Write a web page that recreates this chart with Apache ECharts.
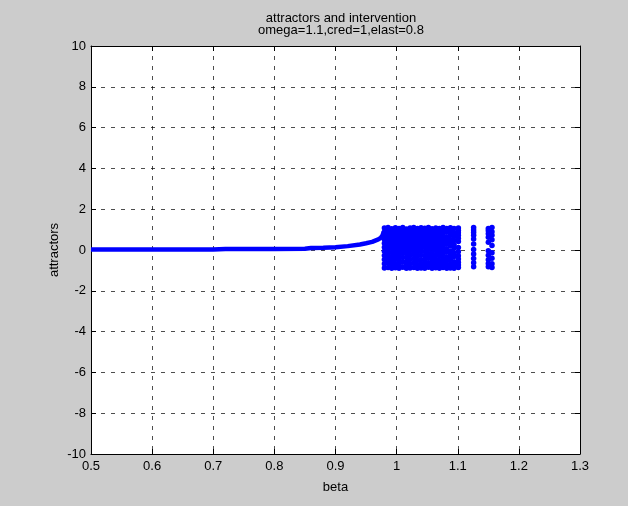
<!DOCTYPE html>
<html>
<head>
<meta charset="utf-8">
<script src="https://cdn.jsdelivr.net/npm/echarts@6/dist/echarts.min.js"></script>
<style>
html,body{margin:0;padding:0;background:#cccccc;}
#c{width:628px;height:506px;}
</style>
</head>
<body>
<div id="c"></div>
<script>
// ---- data ----
const titleLine1 = 'attractors and intervention';
const titleLine2 = 'omega=1.1,cred=1,elast=0.8';
const xName = 'beta';
const yName = 'attractors';

// stable branch (single attractor)
const curveBeta = [0.5, 0.55, 0.6, 0.65, 0.7, 0.72, 0.75, 0.8, 0.85, 0.86, 0.88, 0.9, 0.92, 0.94, 0.95, 0.96, 0.965, 0.97, 0.974, 0.977, 0.979];
const curveY    = [0.02, 0.02, 0.02, 0.02, 0.02, 0.05, 0.05, 0.05, 0.06, 0.1, 0.11, 0.14, 0.19, 0.27, 0.33, 0.4, 0.46, 0.52, 0.6, 0.72, 0.9];

// chaotic band columns
const chaosBeta = [0.980,0.986,0.992,0.998,1.004,1.010,1.016,1.022,1.028,1.034,1.040,1.046,1.052,1.058,1.064,1.070,1.076,1.082,1.088,1.094];
const chaosY = [
 [1.08,0.88,0.7,0.52,0.33,0.14,-0.06,-0.27,-0.47,-0.68,-0.88],
 [1.1,0.93,0.76,0.58,0.4,0.2,0.01,-0.19,-0.41,-0.63,-0.86],
 [1.04,0.85,0.66,0.47,0.28,0.09,-0.12,-0.33,-0.54,-0.74,-0.9],
 [1.09,0.91,0.73,0.55,0.37,0.18,-0.02,-0.23,-0.44,-0.66,-0.87],
 [1.06,0.87,0.69,0.5,0.31,0.12,-0.08,-0.29,-0.5,-0.71,-0.89],
 [1.1,0.94,0.77,0.6,0.42,0.23,0.04,-0.16,-0.37,-0.6,-0.84],
 [1.03,0.84,0.65,0.46,0.27,0.07,-0.14,-0.35,-0.56,-0.76,-0.9],
 [1.08,0.9,0.72,0.54,0.36,0.16,-0.04,-0.25,-0.46,-0.67,-0.88],
 [1.1,0.92,0.74,0.56,0.38,0.19,0.0,-0.21,-0.42,-0.64,-0.86],
 [1.05,0.86,0.67,0.48,0.29,0.1,-0.1,-0.31,-0.52,-0.73,-0.9],
 [1.09,0.9,0.71,0.53,0.34,0.15,-0.05,-0.26,-0.48,-0.69,-0.88],
 [1.07,0.89,0.7,0.51,0.32,0.13,-0.07,-0.28,-0.49,-0.7,-0.89],
 [1.1,0.93,0.75,0.57,0.39,0.21,0.02,-0.18,-0.4,-0.62,-0.85],
 [1.04,0.85,0.66,0.47,0.28,0.08,-0.13,-0.34,-0.55,-0.75,-0.9],
 [1.08,0.9,0.72,0.53,0.35,0.16,-0.03,-0.24,-0.45,-0.66,-0.87],
 [1.06,0.86,0.68,0.49,0.3,0.11,-0.09,-0.3,-0.51,-0.72,-0.89],
 [1.1,0.91,0.73,0.55,0.37,0.17,-0.01,-0.22,-0.43,-0.65,-0.86],
 [1.05,0.87,0.62,0.44,0.29,0.06,-0.11,-0.36,-0.53,-0.74,-0.9],
 [1.09,0.92,0.75,0.51,0.33,0.19,-0.06,-0.27,-0.47,-0.69,-0.88],
 [1.06,0.84,0.66,0.47,0.26,0.09,-0.15,-0.32,-0.58,-0.77,-0.89]
];

// sparse periodic windows
const sparseBeta = [1.101, 1.126, 1.150, 1.156];
const sparseY = [
 [1.08,0.96,0.84,0.72,0.58,0.42,0.12,-0.08,-0.28,-0.44,-0.6,-0.74,-0.86],
 [1.1,0.98,0.86,0.72,0.54,0.3,0.02,-0.2,-0.42,-0.62,-0.82],
 [1.06,0.94,0.8,0.62,0.38,-0.04,-0.26,-0.48,-0.66,-0.82],
 [1.1,0.9,0.72,0.5,0.22,-0.14,-0.4,-0.68,-0.86]
];

const xTicks = ['0.5','0.6','0.7','0.8','0.9','1','1.1','1.2','1.3'];
const yTicks = ['-10','-8','-6','-4','-2','0','2','4','6','8','10'];

// ---- build ----
const curveData = curveBeta.map((b,i)=>[b,curveY[i]]);
const pts = [];
chaosBeta.forEach((b,i)=>chaosY[i].forEach(v=>pts.push([b,v])));
sparseBeta.forEach((b,i)=>sparseY[i].forEach(v=>pts.push([b,v])));

const FONT = 'Liberation Sans, Arial, sans-serif';
const BLUE = '#0000ff';
const gridLine = {show:true, lineStyle:{color:'#000', width:0.7, type:[4,6]}};
const axisLineStyle = {show:true, onZero:false, lineStyle:{color:'#000', width:1}};
const tickIn = {show:true, inside:true, length:5, lineStyle:{color:'#000'}};
const labelFont = {color:'#000', fontSize:13, fontFamily:FONT};

const chart = echarts.init(document.getElementById('c'), null, {renderer:'canvas'});
chart.setOption({
  backgroundColor:'#cccccc',
  animation:false,
  title:[
    {text:titleLine1, left:336, top:7, textAlign:'center', textStyle:{fontSize:13, fontWeight:'normal', color:'#000', fontFamily:FONT}},
    {text:titleLine2, left:336, top:19, textAlign:'center', textStyle:{fontSize:13, fontWeight:'normal', color:'#000', fontFamily:FONT}}
  ],
  grid:{left:91, right:48, top:46, bottom:52, show:true, backgroundColor:'#ffffff', borderWidth:0},
  xAxis:[
    {type:'value', min:0.5, max:1.3, interval:0.1, position:'bottom',
     name:xName, nameLocation:'middle', nameGap:27, nameMoveOverlap:false, nameTextStyle:labelFont,
     axisLine:axisLineStyle, axisTick:tickIn, splitLine:gridLine,
     axisLabel:Object.assign({margin:6, formatter:(v)=>xTicks[Math.round((v-0.5)*10)]}, labelFont)},
    {type:'value', min:0.5, max:1.3, interval:0.1, position:'top',
     axisLine:axisLineStyle, axisTick:tickIn, splitLine:{show:false}, axisLabel:{show:false}}
  ],
  yAxis:[
    {type:'value', min:-10, max:10, interval:2, position:'left',
     name:yName, nameLocation:'middle', nameGap:30, nameMoveOverlap:false, nameTextStyle:labelFont,
     axisLine:axisLineStyle, axisTick:tickIn, splitLine:gridLine,
     axisLabel:Object.assign({margin:5, formatter:(v)=>yTicks[Math.round((v+10)/2)]}, labelFont)},
    {type:'value', min:-10, max:10, interval:2, position:'right',
     axisLine:axisLineStyle, axisTick:tickIn, splitLine:{show:false}, axisLabel:{show:false}}
  ],
  series:[
    {type:'line', data:curveData, showSymbol:false, lineStyle:{color:BLUE, width:4.5}, z:3},
    {type:'scatter', data:pts, symbol:'circle', symbolSize:5.5, itemStyle:{color:BLUE, opacity:1}, z:3}
  ]
});
</script>
</body>
</html>
